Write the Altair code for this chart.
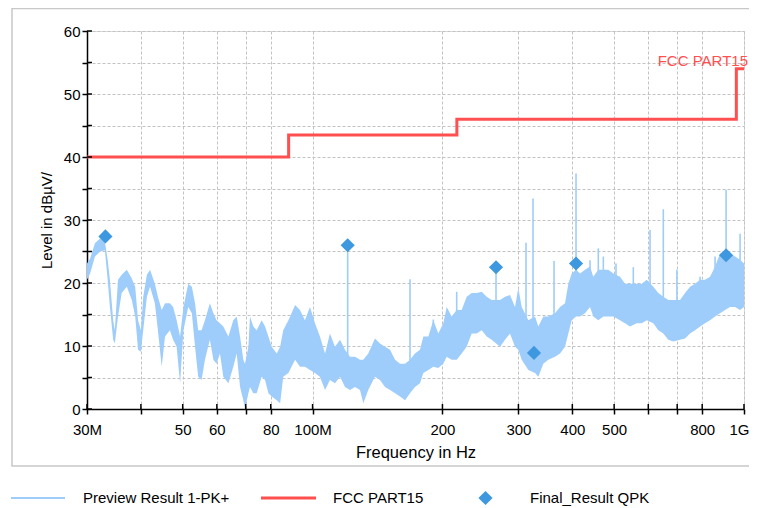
import altair as alt
import pandas as pd

# ---------------- data ----------------
# Preview Result 1-PK+ : envelope of the dense peak trace (MHz, dBµV)
FREQ_MHZ = [30.0, 30.5, 31.3, 32.2, 33.0, 33.5, 33.9, 34.5, 34.8, 35.4, 36.1, 37.1, 38.1, 38.8, 39.4,
            40.0, 40.5, 41.3, 42.0, 43.1, 43.8, 44.7, 45.5, 46.7, 47.5, 48.4, 49.3, 50.2, 51.5, 52.5,
            53.4, 54.3, 55.3, 56.3, 57.8, 58.9, 59.9, 61.0, 62.1, 63.8, 65.5, 66.7, 67.9, 69.1, 69.7,
            71.0, 71.6, 72.9, 74.2, 76.2, 77.6, 79.0, 80.4, 82.6, 84.1, 85.5, 87.9, 91.1, 93.5, 96.0,
            98.6, 101.3, 104.0, 106.9, 109.7, 112.7, 115.8, 118.9, 122.1, 125.4, 128.8, 131.1, 134.6,
            139.5, 143.3, 147.2, 151.2, 155.3, 159.5, 163.8, 168.2, 172.7, 177.4, 180.6, 185.5, 190.5,
            195.6, 200.9, 204.6, 210.1, 215.8, 221.6, 227.6, 233.8, 240.1, 246.6, 253.3, 260.1, 271.9,
            279.3, 286.8, 294.6, 299.8, 305.3, 316.3, 327.8, 333.6, 342.6, 351.9, 364.7, 374.6, 384.7,
            391.6, 398.7, 408.0, 416.8, 428.0, 439.6, 447.4, 459.5, 472.0, 484.7, 497.9, 516.0, 529.9,
            544.3, 564.0, 579.3, 595.0, 616.3, 633.0, 650.1, 667.7, 685.8, 710.8, 730.0, 749.8, 770.1,
            790.9, 812.3, 834.3, 856.9, 880.1, 903.9, 928.4, 953.5, 979.3, 1000.0]
PK_HIGH = [23.1, 23.9, 26.3, 27.1, 26.6, 23.7, 20.5, 14.1, 12.5, 20.5, 21.3, 22.1, 20.7, 19.4, 14.1,
           12.5, 17.8, 21.3, 22.1, 19.9, 17.8, 15.7, 16.8, 16.8, 16.2, 14.1, 11.5, 16.2, 19.9, 19.4,
           16.8, 12.5, 12.5, 14.1, 16.8, 15.2, 14.1, 13.6, 13.1, 11.5, 14.1, 14.7, 11.5, 7.8, 7.2,
           9.9, 14.7, 13.1, 12.5, 14.1, 13.1, 11.5, 9.9, 8.8, 9.9, 12.5, 14.1, 16.5, 15.7, 14.1,
           16.2, 13.6, 11.5, 8.8, 12.0, 9.9, 11.0, 9.4, 8.3, 8.3, 7.8, 7.8, 8.8,
           11.2, 10.4, 9.9, 9.4, 7.8, 7.2, 7.2, 7.8, 8.8, 9.4, 11.5, 11.5, 14.1,
           12.0, 13.6, 16.2, 14.7, 15.7, 15.7, 17.8, 18.4, 18.4, 18.6, 17.8, 17.3, 17.3,
           17.8, 18.1, 16.2, 19.2, 16.2, 14.1, 14.7, 13.1, 14.7, 14.7, 15.2, 16.2, 16.8,
           19.9, 21.5, 22.1, 21.5, 22.1, 22.6, 21.0, 22.1, 22.1, 22.1, 21.5, 21.0, 19.9,
           19.9, 19.9, 19.9, 20.5, 19.4, 18.4, 17.8, 17.3, 17.3, 17.3, 18.4, 19.4, 19.9,
           20.5, 20.5, 21.0, 22.6, 24.7, 25.0, 24.7, 24.2, 23.7, 23.1]
PK_LOW = [20.5, 21.5, 24.2, 25.0, 25.2, 20.5, 16.2, 11.0, 10.4, 14.7, 18.4, 19.4, 17.3, 14.7, 9.4,
          9.1, 12.5, 17.8, 19.4, 16.8, 12.5, 6.7, 11.5, 12.5, 11.0, 9.9, 4.1, 12.5, 16.2, 15.2,
          9.9, 5.1, 4.6, 7.8, 11.0, 7.8, 7.2, 8.8, 5.1, 4.1, 6.7, 8.8, 3.5, 1.4, 0.0,
          2.5, 3.5, 2.5, 2.5, 5.1, 4.6, 2.5, 2.0, 1.4, 0.9, 5.1, 5.7, 7.8, 6.7, 6.7,
          6.2, 5.7, 5.1, 3.0, 4.6, 4.1, 5.1, 3.5, 3.0, 3.5, 3.0, 0.9, 3.0,
          5.1, 4.6, 3.5, 3.0, 2.5, 2.0, 1.4, 2.5, 3.5, 4.1, 5.7, 6.2, 6.7,
          6.5, 7.2, 8.3, 7.8, 7.8, 8.8, 9.9, 12.0, 12.0, 12.5, 11.5, 11.0, 9.9,
          11.0, 12.0, 9.9, 9.4, 7.8, 6.2, 5.7, 5.1, 7.2, 7.8, 8.3, 8.8, 9.9,
          12.0, 14.1, 14.7, 14.7, 15.2, 16.2, 14.7, 14.1, 14.7, 14.7, 14.7, 14.1, 13.6,
          13.1, 13.6, 13.6, 14.1, 13.6, 12.5, 12.0, 11.0, 10.7, 11.0, 11.2, 12.0, 12.5,
          13.1, 13.6, 14.1, 14.7, 15.2, 15.7, 16.2, 16.2, 15.7, 16.2]

# narrow spikes of the peak trace
SPIKE_FREQ = [120.6, 168.2, 190.5, 215.8, 266.2, 312.4, 324.3, 362.8, 408.0, 439.6, 459.5, 472.0,
              505.0, 553.9, 605.6, 650.1, 699.0, 790.9, 856.9, 908.8, 979.3]
SPIKE_TOP = [26.0, 20.6, 14.2, 18.6, 22.5, 26.4, 33.4, 23.5, 37.4, 23.6, 25.5, 24.2,
             23.1, 22.5, 28.4, 31.7, 22.1, 21.0, 24.2, 34.8, 27.8]
SPIKE_BASE = [6.0, 5.0, 10.0, 12.0, 14.0, 10.0, 10.0, 12.0, 18.0, 19.0, 18.0, 18.0,
              18.0, 16.0, 16.0, 14.0, 14.0, 17.0, 18.0, 20.0, 19.0]

# Final_Result QPK
QPK_FREQ = [33.1, 120.6, 266.2, 326.0, 408.0, 908.8]
QPK_LEVEL = [27.4, 26.0, 22.5, 8.9, 23.1, 24.4]

# FCC PART15 limit
LIMIT_FREQ = [30, 88, 88, 216, 216, 960, 960, 1000]
LIMIT_LEVEL = [40, 40, 43.5, 43.5, 46, 46, 54, 54]
LIMIT_NAME = ["FCC PART15"]

# axes
X_TICKS = [30, 40, 50, 60, 70, 80, 100, 200, 300, 400, 500, 600, 700, 800, 1000]
X_LABELS = ["30M", "", "50", "60", "", "80", "100M", "200", "300", "400", "500", "", "", "800", "1G"]
Y_TICKS = [0, 5, 10, 15, 20, 25, 30, 35, 40, 45, 50, 55, 60]
Y_LABELS = ["0", "", "10", "", "20", "", "30", "", "40", "", "50", "", "60"]

LEGEND_LABELS = ["Preview Result 1-PK+", "FCC PART15", "Final_Result QPK"]

# ---------------- styling ----------------
FONT = "Liberation Sans"
TRACE = "#9ecdfb"
RED = "#ff4f4f"
DIAMOND = "#3d98df"
GRID = "#c2c2c2"
W, H = 657, 378


def expr(ticks, labels):
    s = "''"
    for t, l in zip(reversed(ticks), reversed(labels)):
        s = f"round(datum.value) == {t} ? '{l}' : ({s})"
    return s


xscale = alt.Scale(type="log", domain=[30, 1000], nice=False)
yscale = alt.Scale(domain=[0, 60], nice=False, zero=False)

last_x = X_TICKS[-1]
xaxis = alt.Axis(values=X_TICKS, labelExpr=expr(X_TICKS, X_LABELS), title="Frequency in Hz",
                 grid=True, gridDash=[3, 2], gridColor=GRID, gridWidth=1,
                 domainColor="black", domainWidth=1.5, tickColor="black", tickWidth=1.5, tickSize=5,
                 labelFont=FONT, labelFontSize=15, labelColor="black", labelPadding=8,
                 labelAlign={"condition": {"test": f"round(datum.value) == {last_x}", "value": "right"},
                             "value": "center"},
                 labelOffset={"condition": {"test": f"round(datum.value) == {last_x}", "value": 5},
                              "value": 0},
                 labelFlush=False, labelOverlap=False,
                 titleFont=FONT, titleFontSize=16.5, titleFontWeight="normal", titleColor="black",
                 titlePadding=7)
yaxis = alt.Axis(values=Y_TICKS, labelExpr=expr(Y_TICKS, Y_LABELS), title="Level in dBµV/",
                 grid=True, gridDash=[3, 2], gridColor=GRID, gridWidth=1,
                 domainColor="black", domainWidth=1.5, tickColor="black", tickWidth=1.5, tickSize=5,
                 labelFont=FONT, labelFontSize=15, labelColor="black", labelPadding=2,
                 labelOverlap=False,
                 titleFont=FONT, titleFontSize=15, titleFontWeight="normal", titleColor="black",
                 titlePadding=9)

env = pd.DataFrame({"f": FREQ_MHZ, "hi": PK_HIGH, "lo": PK_LOW})
spikes = pd.DataFrame({"f": SPIKE_FREQ, "hi": SPIKE_TOP, "lo": SPIKE_BASE})
qpk = pd.DataFrame({"f": QPK_FREQ, "lo": QPK_LEVEL})
limit = pd.DataFrame({"f": LIMIT_FREQ, "lo": LIMIT_LEVEL, "i": list(range(len(LIMIT_FREQ)))})
xt = pd.DataFrame({"f": X_TICKS})
yt = pd.DataFrame({"lo": Y_TICKS})

X = alt.X("f:Q", scale=xscale, axis=xaxis)
Y = alt.Y("lo:Q", scale=yscale, axis=yaxis)

area = alt.Chart(env).mark_area(color=TRACE, opacity=1, strokeWidth=0).encode(x=X, y=Y, y2="hi:Q")

spike = alt.Chart(spikes).mark_rule(color=TRACE, strokeWidth=1.6).encode(x=X, y=Y, y2="hi:Q")

lim = alt.Chart(limit).mark_line(color=RED, strokeWidth=3, interpolate="linear").encode(
    x=X, y=Y, order="i:Q")

lim_text = alt.Chart(pd.DataFrame({"f": [LIMIT_FREQ[-1]], "lo": [LIMIT_LEVEL[-1]], "t": LIMIT_NAME})).mark_text(
    color=RED, font=FONT, fontSize=15, align="right", baseline="middle", dx=4, dy=-8).encode(
    x=X, y=Y, text="t:N")

pts = alt.Chart(qpk).mark_point(shape="diamond", filled=True, size=200, color=DIAMOND, opacity=1).encode(
    x=X, y=Y)

xin = alt.Chart(xt).mark_rule(color="black", strokeWidth=1.5).encode(
    x=X, y=alt.value(H - 5), y2=alt.value(H))
yin = alt.Chart(yt).mark_rule(color="black", strokeWidth=1.5).encode(
    y=Y, x=alt.value(0), x2=alt.value(5))

one = pd.DataFrame({"a": [0]})
frame = alt.Chart(one).mark_rect(filled=False, stroke="#c8c8c8", strokeWidth=1.5).encode(
    x=alt.value(-75), x2=alt.value(W + 200), y=alt.value(-22.5), y2=alt.value(435))

LY = 467
leg_l1 = alt.Chart(one).mark_rule(color=TRACE, strokeWidth=2).encode(
    x=alt.value(-76), x2=alt.value(-22), y=alt.value(LY))
leg_l2 = alt.Chart(one).mark_rule(color=RED, strokeWidth=3).encode(
    x=alt.value(174), x2=alt.value(229), y=alt.value(LY))
leg_p = alt.Chart(one).mark_point(shape="diamond", filled=True, size=200, color=DIAMOND, opacity=1).encode(
    x=alt.value(398.5), y=alt.value(LY))
leg_t1 = alt.Chart(pd.DataFrame({"t": [LEGEND_LABELS[0]]})).mark_text(
    font=FONT, fontSize=15, color="black", align="left", baseline="middle").encode(
    x=alt.value(-4), y=alt.value(LY), text="t:N")
leg_t2 = alt.Chart(pd.DataFrame({"t": [LEGEND_LABELS[1]]})).mark_text(
    font=FONT, fontSize=15, color="black", align="left", baseline="middle").encode(
    x=alt.value(246), y=alt.value(LY), text="t:N")
leg_t3 = alt.Chart(pd.DataFrame({"t": [LEGEND_LABELS[2]]})).mark_text(
    font=FONT, fontSize=15, color="black", align="left", baseline="middle").encode(
    x=alt.value(443), y=alt.value(LY), text="t:N")

chart = alt.layer(area, spike, lim, lim_text, pts, xin, yin, frame,
                  leg_l1, leg_l2, leg_p, leg_t1, leg_t2, leg_t3).properties(
    width=W, height=H, autosize="none",
    padding={"left": 79, "top": 23, "right": 5, "bottom": 99},
).configure_view(stroke=None).configure(background="white")

chart.save("out.html", embed_options={"renderer": "svg", "actions": False})
